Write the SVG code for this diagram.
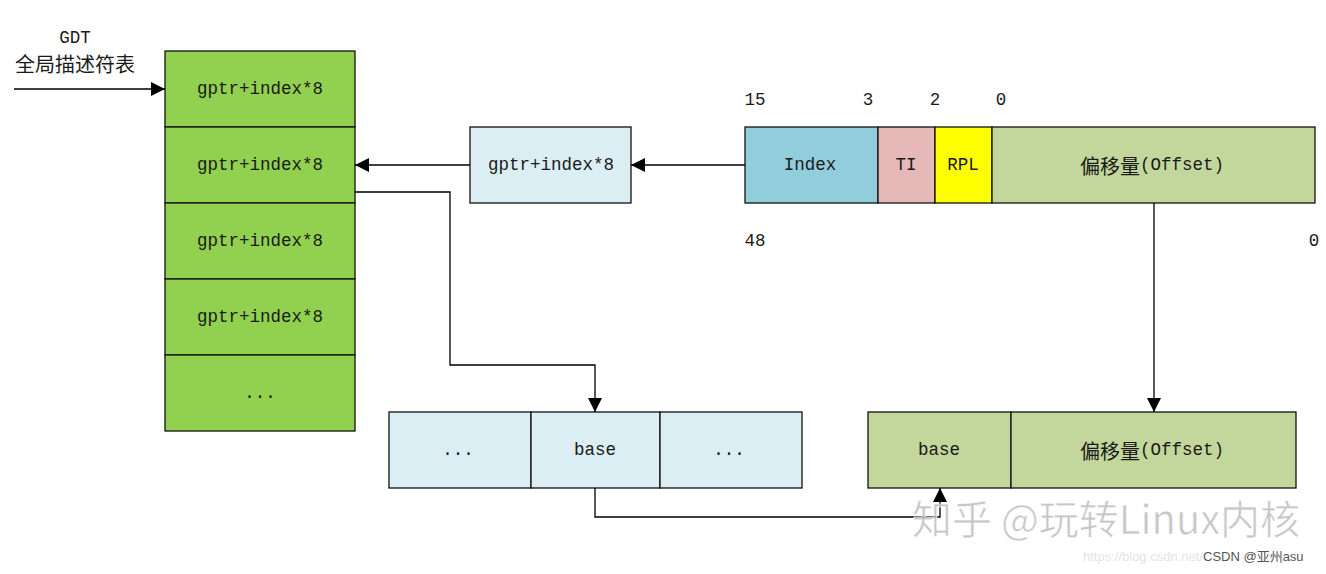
<svg xmlns="http://www.w3.org/2000/svg" width="1326" height="574" viewBox="0 0 1326 574">
<style>
.t{font-family:"Liberation Mono","Noto Sans CJK SC",monospace;font-size:17.5px;fill:#1a1a1a;text-anchor:middle;dominant-baseline:central}
.c{font-family:"Noto Sans CJK SC","Liberation Serif",serif;font-size:20px}
.b{stroke:#111;stroke-width:1.3}
.g{fill:#92d050}
.lb{fill:#daeef3}
.ol{fill:#c3d69b}
.ln{fill:none;stroke:#000;stroke-width:1.3}
</style>
<defs>
<marker id="ah" viewBox="0 0 10 10" refX="10" refY="5" markerWidth="14" markerHeight="14" markerUnits="userSpaceOnUse" orient="auto">
<path d="M0,0 L10,5 L0,10 Z" fill="#000"/>
</marker>
</defs>
<rect width="1326" height="574" fill="#fff"/>
<g id="gdt-label">
<text class="t" x="75" y="38">GDT</text>
<text class="t c" x="75" y="63">全局描述符表</text>
</g>
<g id="gdt">
<rect class="g b" x="165" y="51" width="190" height="76"/>
<text class="t" x="260" y="89">gptr+index*8</text>
<rect class="g b" x="165" y="127" width="190" height="76"/>
<text class="t" x="260" y="165">gptr+index*8</text>
<rect class="g b" x="165" y="203" width="190" height="76"/>
<text class="t" x="260" y="241">gptr+index*8</text>
<rect class="g b" x="165" y="279" width="190" height="76"/>
<text class="t" x="260" y="317">gptr+index*8</text>
<rect class="g b" x="165" y="355" width="190" height="76"/>
<text class="t" x="260" y="393">...</text>
</g>
<g id="addr">
<rect class="lb b" x="470" y="127" width="161" height="76"/>
<text class="t" x="551" y="165">gptr+index*8</text>
</g>
<g id="selector">
<rect class="b" x="745" y="127" width="133" height="76" fill="#92cddc"/>
<text class="t" x="810" y="165">Index</text>
<rect class="b" x="878" y="127" width="57" height="76" fill="#e6b9b8"/>
<text class="t" x="906" y="165">TI</text>
<rect class="b" x="935" y="127" width="57" height="76" fill="#ffff00"/>
<text class="t" x="963" y="165">RPL</text>
<rect class="ol b" x="992" y="127" width="323" height="76"/>
<text class="t" x="1152" y="165"><tspan class="c">偏移量</tspan>(Offset)</text>
<text class="t" x="755" y="100">15</text>
<text class="t" x="868" y="100">3</text>
<text class="t" x="935" y="100">2</text>
<text class="t" x="1001" y="100">0</text>
<text class="t" x="755" y="241">48</text>
<text class="t" x="1314" y="241">0</text>
</g>
<g id="descriptor">
<rect class="lb b" x="389" y="412" width="142" height="76"/>
<text class="t" x="458" y="450">...</text>
<rect class="lb b" x="531" y="412" width="129" height="76"/>
<text class="t" x="595" y="450">base</text>
<rect class="lb b" x="660" y="412" width="142" height="76"/>
<text class="t" x="729" y="450">...</text>
</g>
<g id="linear">
<rect class="ol b" x="868" y="412" width="143" height="76"/>
<text class="t" x="939" y="450">base</text>
<rect class="ol b" x="1011" y="412" width="285" height="76"/>
<text class="t" x="1152" y="450"><tspan class="c">偏移量</tspan>(Offset)</text>
</g>
<g id="connectors">
<path class="ln" d="M14,89 H165" marker-end="url(#ah)"/>
<path class="ln" d="M745,165 H631" marker-end="url(#ah)"/>
<path class="ln" d="M470,165 H355" marker-end="url(#ah)"/>
<path class="ln" d="M355,192 H450 V365 H595 V412" marker-end="url(#ah)"/>
<path class="ln" d="M1154,203 V412" marker-end="url(#ah)"/>
<path class="ln" d="M595,488 V517 H940 V488" marker-end="url(#ah)"/>
</g>
<g id="watermark">
<text x="912" y="534" font-family="Noto Sans CJK SC,sans-serif" font-size="40" fill="#bdbdbd" fill-opacity="0.85" stroke="#fff" stroke-width="0.6">知乎 @玩转Linux内核</text>
<text x="1083" y="561" font-family="Liberation Sans,sans-serif" font-size="13" fill="#e4e4e4">https://blog.csdn.net/</text>
<text x="1203" y="561" font-family="Liberation Sans,Noto Sans CJK SC,sans-serif" font-size="13" fill="#555">CSDN @亚州asu</text>
</g>
</svg>
